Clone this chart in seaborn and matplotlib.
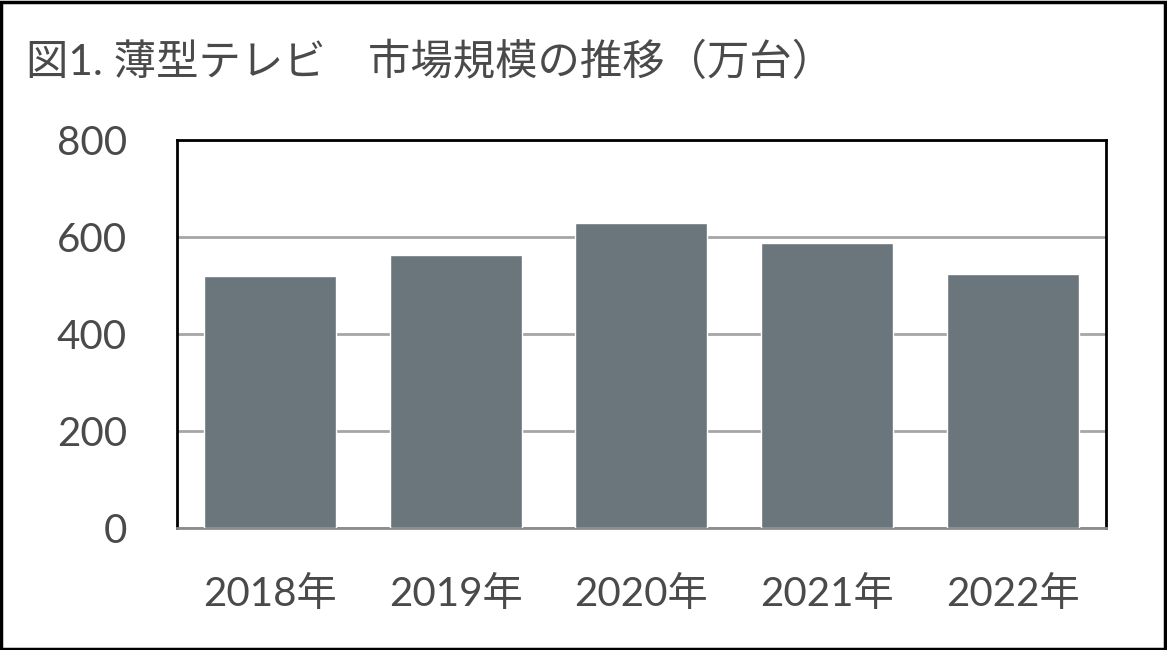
import matplotlib
matplotlib.use('Agg')
import matplotlib.pyplot as plt
import seaborn as sns
import pandas as pd
from matplotlib.patches import Rectangle

# données
years = ['2018年', '2019年', '2020年', '2021年', '2022年']
units = [520, 563, 629, 588, 524]
yticks = [0, 200, 400, 600, 800]
title = '図1. 薄型テレビ\u3000市場規模の推移（万台）'

df = pd.DataFrame({'year': years, 'units': units})

sns.set_theme(style='white')
plt.rcParams['font.family'] = ['Lato', 'Noto Sans CJK JP', 'DejaVu Sans']

text_color = '#4a4a4a'
bar_color = '#6b757c'

fig = plt.figure(figsize=(11.67, 6.5), dpi=100)
ax = fig.add_axes([0.1517, 0.1872, 0.7958, 0.597])

sns.barplot(x='year', y='units', data=df, color=bar_color, width=0.71,
            saturation=1, ax=ax, zorder=3)

ax.set_ylim(0, 800)
ax.set_yticks(yticks)
ax.yaxis.grid(True, color='#a6a6a6', linewidth=2, zorder=0)
ax.set_axisbelow(True)
ax.set_xlabel('')
ax.set_ylabel('')
ax.tick_params(axis='both', length=0, labelsize=29, labelcolor=text_color)
ax.tick_params(axis='y', pad=36)
ax.tick_params(axis='x', pad=34)

for side in ['top', 'right', 'left']:
    ax.spines[side].set_visible(True)
    ax.spines[side].set_color('black')
    ax.spines[side].set_linewidth(2)
ax.spines['bottom'].set_color('#8c8c8c')
ax.spines['bottom'].set_linewidth(2)

fig.text(0.022, 0.905, title, fontsize=30.5, color=text_color,
         va='center', ha='left')

# cadre autour de la figure
fig.patches.append(Rectangle((0.001, 0.002), 0.997, 0.995, transform=fig.transFigure,
                             fill=False, edgecolor='black', linewidth=2.5))

fig.savefig('out.png', dpi=100)
